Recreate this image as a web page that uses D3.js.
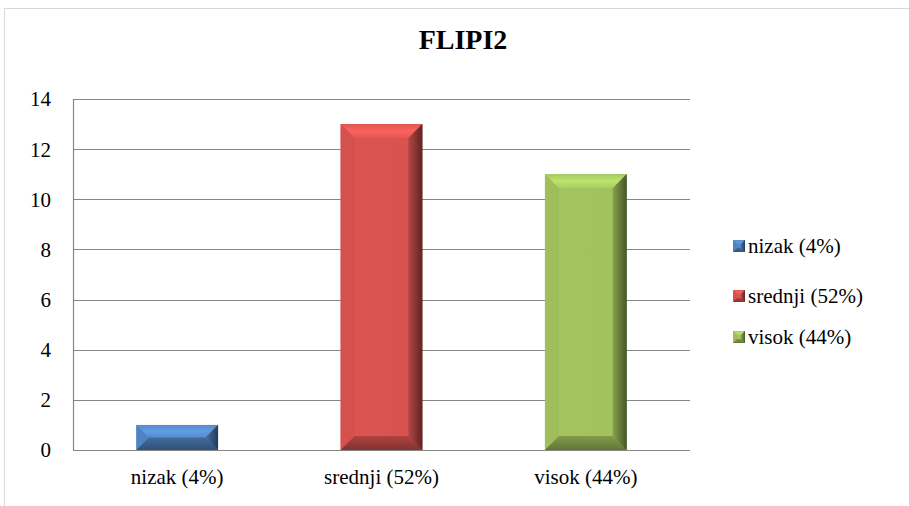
<!DOCTYPE html>
<html><head><meta charset="utf-8">
<script src="https://cdn.jsdelivr.net/npm/d3@7"></script>
</head><body style="margin:0;background:#fff">
<script>
const categories = ["nizak (4%)", "srednji (52%)", "visok (44%)"];
const values = [1, 13, 11];
const colors = ["#4f81bd", "#d0504d", "#9bbb59"];
const yTicks = [0, 2, 4, 6, 8, 10, 12, 14];
const title = "FLIPI2";

const W = 909, H = 506;
const FONT = 'Tinos, "Liberation Serif", "Times New Roman", Times, serif';
const svg = d3.select("body").append("svg").attr("width", W).attr("height", H).style("display", "block")
  .style("font-family", FONT);
const defs = svg.append("defs");
svg.append("rect").attr("x", 4.5).attr("y", 8.5).attr("width", W + 10).attr("height", H)
  .attr("fill", "#fff").attr("stroke", "#d9d9d9").attr("stroke-width", 1);

const m = {l: 73, r: 690, t: 99, b: 450};
const x = d3.scaleBand().domain(categories).range([m.l, m.r]).paddingInner(0.6).paddingOuter(0.31);
const y = d3.scaleLinear().domain([0, 14]).range([m.b, m.t]);

svg.append("text").attr("x", 463).attr("y", 49).attr("text-anchor", "middle")
  .attr("font-family", FONT).attr("font-weight", "bold")
  .attr("font-size", 28).text(title);

svg.append("g").selectAll("line").data(yTicks).join("line")
  .attr("x1", m.l).attr("x2", m.r).attr("y1", d => Math.round(y(d)) + 0.5).attr("y2", d => Math.round(y(d)) + 0.5)
  .attr("stroke", "#868686").attr("stroke-width", 1.2);
svg.append("line").attr("x1", m.l + 0.5).attr("x2", m.l + 0.5).attr("y1", m.t).attr("y2", m.b)
  .attr("stroke", "#868686").attr("stroke-width", 1.2);

const yAxis = d3.axisLeft(y).tickValues(yTicks).tickSize(0).tickPadding(0);
const ga = svg.append("g").attr("transform", `translate(${m.l - 22},0)`).call(yAxis);
ga.attr("font-family", FONT).attr("font-size", 21);
ga.select(".domain").remove();
ga.selectAll("text").attr("fill", "#000").attr("text-anchor", "end").attr("dy", "0.33em");

const xAxis = d3.axisBottom(x).tickSize(0).tickPadding(0);
const gx = svg.append("g").attr("transform", `translate(0,${m.b + 27})`).call(xAxis);
gx.attr("font-family", FONT).attr("font-size", 21);
gx.select(".domain").remove();
gx.selectAll("text").attr("fill", "#000").attr("dy", "0.33em");

function bevelBar(g, x0, y0, w, h, c, bv) {
  const base = d3.color(c);
  const id = "g" + Math.random().toString(36).slice(2);
  const lg = defs.append("linearGradient").attr("id", id).attr("x1", 0).attr("x2", 1).attr("y1", 0).attr("y2", 0);
  lg.append("stop").attr("offset", 0).attr("stop-color", base.brighter(0.15));
  lg.append("stop").attr("offset", 0.85).attr("stop-color", base.brighter(0.1));
  lg.append("stop").attr("offset", 1).attr("stop-color", base.darker(1.2));
  g.append("rect").attr("x", x0).attr("y", y0).attr("width", w).attr("height", h).attr("fill", `url(#${id})`);
  const b = Math.min(bv, h / 2, w / 2);
  const x1 = x0 + w, y1 = y0 + h;
  const tid = id + "t";
  const tg = defs.append("linearGradient").attr("id", tid).attr("x1", 0).attr("x2", 0).attr("y1", 0).attr("y2", 1);
  tg.append("stop").attr("offset", 0).attr("stop-color", base.brighter(0.2));
  tg.append("stop").attr("offset", 0.5).attr("stop-color", base.brighter(0.55));
  tg.append("stop").attr("offset", 1).attr("stop-color", base.brighter(0.25));
  g.append("path").attr("d", `M${x0},${y0}L${x1},${y0}L${x1 - b},${y0 + b}L${x0 + b},${y0 + b}Z`).attr("fill", `url(#${tid})`);
  g.append("path").attr("d", `M${x0},${y0}L${x0 + b},${y0 + b}L${x0 + b},${y1 - b}L${x0},${y1}Z`).attr("fill", base.brighter(0.05)).attr("opacity", 0.9);
  const rid = id + "r";
  const rg = defs.append("linearGradient").attr("id", rid).attr("x1", 0).attr("x2", 1).attr("y1", 0).attr("y2", 0);
  rg.append("stop").attr("offset", 0).attr("stop-color", base.darker(0.4));
  rg.append("stop").attr("offset", 1).attr("stop-color", base.darker(2.2));
  g.append("path").attr("d", `M${x1},${y0}L${x1},${y1}L${x1 - b},${y1 - b}L${x1 - b},${y0 + b}Z`).attr("fill", `url(#${rid})`);
  const bid = id + "b";
  const bg = defs.append("linearGradient").attr("id", bid).attr("x1", 0).attr("x2", 0).attr("y1", 0).attr("y2", 1);
  bg.append("stop").attr("offset", 0).attr("stop-color", base.darker(0.5));
  bg.append("stop").attr("offset", 1).attr("stop-color", base.darker(1.3));
  g.append("path").attr("d", `M${x0},${y1}L${x0 + b},${y1 - b}L${x1 - b},${y1 - b}L${x1},${y1}Z`).attr("fill", `url(#${bid})`);
}

const bars = svg.append("g");
categories.forEach((c, i) => {
  const g = bars.append("g");
  bevelBar(g, x(c), y(values[i]), x.bandwidth(), y(0) - y(values[i]), colors[i], 14);
});
svg.append("line").attr("x1", m.l).attr("x2", m.r).attr("y1", Math.round(y(0)) + 0.5).attr("y2", Math.round(y(0)) + 0.5)
  .attr("stroke", "#868686").attr("stroke-width", 1.2);

const legY = [246, 296, 337];
const lg = svg.append("g").attr("font-family", FONT).attr("font-size", 21);
categories.forEach((c, i) => {
  const g = lg.append("g");
  bevelBar(g, 733, legY[i] - 6, 12, 12, colors[i], 4);
  g.append("text").attr("x", 748).attr("y", legY[i]).attr("dy", "0.33em").text(c);
});
</script>
</body></html>
